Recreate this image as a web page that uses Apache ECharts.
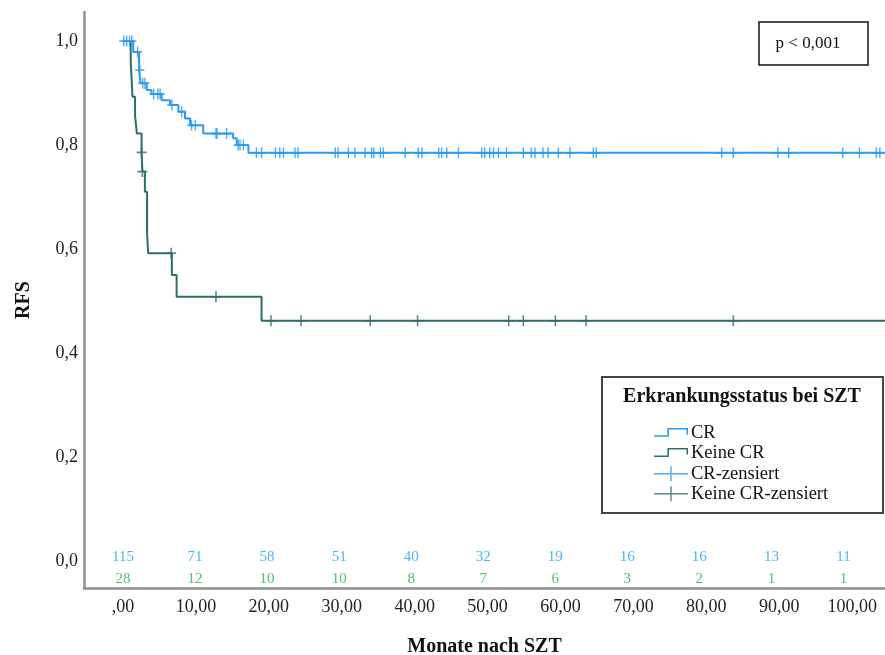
<!DOCTYPE html>
<html><head><meta charset="utf-8">
<script src="https://cdn.jsdelivr.net/npm/echarts@6/dist/echarts.min.js"></script>
<style>html,body{margin:0;padding:0;background:#fff}#c{width:885px;height:655px}</style>
</head><body><div id="c"></div>
<script>
// ---- data ----
const crTimes = [0, 1.4, 2.2, 2.4, 3.25, 3.9, 5.3, 6.45, 7.6, 8.5, 9.2, 11.0, 15.1, 15.6, 17.2];
const crSurv  = [1.0, 0.979, 0.944, 0.919, 0.906, 0.898, 0.886, 0.877, 0.864, 0.851, 0.838, 0.822, 0.813, 0.800, 0.785];
const crCensor = [0.1, 0.5, 0.9, 1.2, 2.0, 2.3, 2.7, 3.0, 4.2, 4.8, 5.1, 6.7, 8.05, 9.4, 9.9, 12.75, 12.9, 14.2,
  15.8, 16.05, 16.5, 18.3, 19.0, 20.9, 21.5, 22.0, 23.6, 24.0, 29.1, 29.5, 30.9, 31.8, 33.2, 34.1, 34.4, 35.3, 35.7,
  38.7, 40.5, 41.0, 43.3, 43.7, 44.4, 46.0, 49.2, 49.6, 50.3, 50.8, 51.5, 52.6, 54.9, 56.0, 56.5, 57.6, 58.3, 59.7,
  61.3, 64.5, 64.9, 82.1, 83.7, 89.8, 91.3, 98.7, 101.0, 103.3, 103.8];

const nocrTimes = [0, 1.05, 1.3, 1.65, 1.9, 2.55, 2.65, 3.0, 3.3, 3.45, 6.7, 7.35, 19.0];
const nocrSurv  = [1.0, 0.964, 0.893, 0.857, 0.822, 0.786, 0.749, 0.710, 0.630, 0.592, 0.550, 0.508, 0.462];
const nocrCensor = [2.55, 2.65, 6.6, 12.75, 20.3, 24.4, 33.9, 40.4, 52.9, 54.9, 59.3, 63.5, 83.7];

const riskTimes = [0, 10, 20, 30, 40, 50, 60, 70, 80, 90, 100];
const riskCR    = [115, 71, 58, 51, 40, 32, 19, 16, 16, 13, 11];
const riskNoCR  = [28, 12, 10, 10, 8, 7, 6, 3, 2, 1, 1];

const xTicks = [0, 10, 20, 30, 40, 50, 60, 70, 80, 90, 100];
const yTicks = [0, 0.2, 0.4, 0.6, 0.8, 1.0];

const names = ['CR', 'Keine CR', 'CR-zensiert', 'Keine CR-zensiert'];
const legendTitle = 'Erkrankungsstatus bei SZT';
const pText = 'p < 0,001';
const xName = 'Monate nach SZT';
const yName = 'RFS';

// ---- styling / layout ----
const FONT = '"Liberation Serif", "Times New Roman", serif';
const BLUE = '#2b9af0';
const TEAL = '#2e6e6a';
const RISK_BLUE = '#18a6e6';
const RISK_GREEN = '#22b04c';
const X_MIN = -5.35, X_MAX = 104.5, Y_MIN = -0.0519, Y_MAX = 1.0558;
const RISK_SCALE = 0.988;

function survAt(times, surv, t) {
  let s = surv[0];
  for (let i = 0; i < times.length; i++) if (times[i] <= t) s = surv[i];
  return s;
}
function curve(times, surv) {
  const d = times.map((t, i) => [t, surv[i]]);
  d.push([X_MAX, surv[surv.length - 1]]);
  return d;
}
const plus = 'path://M4.2,0H5.8V10H4.2Z M0,4.2H10V5.8H0Z';
const stepIcon = 'path://M0,-4h0.01v0.01h-0.01Z M0,5.3H13V-2H33V4.5H31.5V-0.5H14.5V6.8H0Z M0,11h0.01v0.01h-0.01Z';
const plusIcon = 'path://M0,6.75H35V8.25H0Z M16.75,0H18.25V15H16.75Z';

const chart = echarts.init(document.getElementById('c'), null, {renderer: 'canvas'});
chart.setOption({
  backgroundColor: '#fff',
  animation: false,
  grid: {left: 84, right: 0, top: 12, bottom: 67, containLabel: false, outerBoundsMode: 'none'},
  xAxis: {
    type: 'value', min: X_MIN, max: X_MAX,
    name: xName, nameLocation: 'middle', nameGap: 49,
    nameTextStyle: {fontFamily: FONT, fontSize: 20, fontWeight: 'bold', color: '#111'},
    axisLine: {onZero: false, lineStyle: {color: '#8f8f8f', width: 2.5}},
    axisTick: {show: false},
    splitLine: {show: false},
    axisLabel: {
      customValues: xTicks, margin: 10,
      fontFamily: FONT, fontSize: 18, color: '#222',
      formatter: v => v === 0 ? ',00' : v.toFixed(2).replace('.', ',')
    }
  },
  yAxis: {
    type: 'value', min: Y_MIN, max: Y_MAX,
    name: yName, nameLocation: 'middle', nameGap: 50,
    nameTextStyle: {fontFamily: FONT, fontSize: 20, fontWeight: 'bold', color: '#111'},
    axisLine: {show: true, onZero: false, lineStyle: {color: '#8f8f8f', width: 2.5}},
    axisTick: {show: false},
    splitLine: {show: false},
    axisLabel: {
      customValues: yTicks, margin: 6,
      fontFamily: FONT, fontSize: 18, color: '#222',
      formatter: v => v.toFixed(1).replace('.', ',')
    }
  },
  legend: {
    orient: 'vertical', left: 649, top: 419, z: 10,
    itemWidth: 34, itemHeight: 15, itemGap: 1.1,
    symbolKeepAspect: false, selectedMode: false,
    textStyle: {fontFamily: FONT, fontSize: 18.5, color: '#111', lineHeight: 15, padding: [0, 0, 0, -2]},
    data: [
      {name: names[0], icon: stepIcon, itemStyle: {color: BLUE}},
      {name: names[1], icon: stepIcon, itemStyle: {color: TEAL}},
      {name: names[2], icon: plusIcon, itemStyle: {color: BLUE}},
      {name: names[3], icon: plusIcon, itemStyle: {color: TEAL}}
    ]
  },
  graphic: [
    {type: 'rect', z: 1, shape: {x: 602, y: 377, width: 281, height: 136},
     style: {fill: 'none', stroke: '#444', lineWidth: 2}},
    {type: 'text', z: 11, x: 742, y: 397,
     style: {text: legendTitle, fontFamily: FONT, fontSize: 20, fontWeight: 'bold', fill: '#111',
             align: 'center', verticalAlign: 'middle'}},
    {type: 'rect', z: 1, shape: {x: 759, y: 22, width: 109, height: 43},
     style: {fill: 'none', stroke: '#111', lineWidth: 1.5}},
    {type: 'text', z: 11, x: 808, y: 44,
     style: {text: pText, fontFamily: FONT, fontSize: 17, fill: '#111', align: 'center', verticalAlign: 'middle'}}
  ],
  series: [
    {name: names[1], type: 'line', step: 'end', symbol: 'none', z: 2,
     lineStyle: {color: TEAL, width: 2}, itemStyle: {color: TEAL},
     data: curve(nocrTimes, nocrSurv)},
    {name: names[0], type: 'line', step: 'end', symbol: 'none', z: 3,
     lineStyle: {color: BLUE, width: 2}, itemStyle: {color: BLUE},
     data: curve(crTimes, crSurv)},
    {name: names[3], type: 'scatter', symbol: plus, symbolSize: [10, 11], z: 4,
     itemStyle: {color: TEAL}, silent: true,
     data: nocrCensor.map(t => [t, survAt(nocrTimes, nocrSurv, t)])},
    {name: names[2], type: 'scatter', symbol: plus, symbolSize: [9, 11], z: 5,
     itemStyle: {color: BLUE}, silent: true,
     data: crCensor.map(t => [t, survAt(crTimes, crSurv, t)])},
    {name: 'riskCR', type: 'scatter', symbolSize: 1, silent: true, clip: false,
     itemStyle: {color: 'rgba(0,0,0,0)'},
     label: {show: true, position: 'inside', offset: [0, -4], formatter: p => String(p.data[2]),
             fontFamily: FONT, fontSize: 15, color: RISK_BLUE},
     data: riskTimes.map((t, i) => [t * RISK_SCALE, 0, riskCR[i]])},
    {name: 'riskNoCR', type: 'scatter', symbolSize: 1, silent: true, clip: false,
     itemStyle: {color: 'rgba(0,0,0,0)'},
     label: {show: true, position: 'inside', offset: [0, 18], formatter: p => String(p.data[2]),
             fontFamily: FONT, fontSize: 15, color: RISK_GREEN},
     data: riskTimes.map((t, i) => [t * RISK_SCALE, 0, riskNoCR[i]])}
  ]
});
</script>
</body></html>
